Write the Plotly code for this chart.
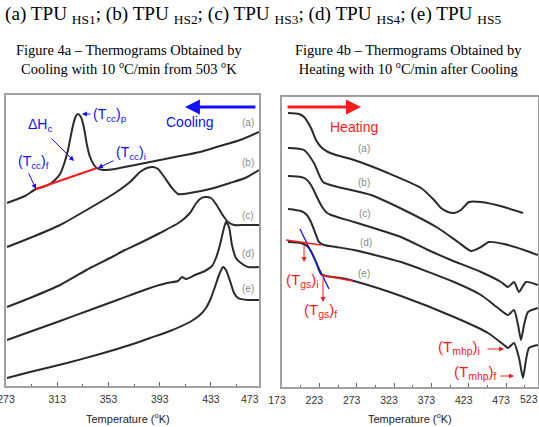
import plotly.graph_objects as go

W, H = 539, 427

# ---------------- Data (T in K, heat flow in arbitrary units, curves offset) ----------------
# Figure 4a - cooling thermograms
cool_a_T = [273.8, 280.0, 287.8, 296.4, 301.9, 307.3, 311.2, 315.2, 318.3, 321.4, 324.5, 326.9, 329.2, 331.5,
            333.9, 336.2, 338.6, 341.7, 344.0, 348.7, 358.1, 369.8, 385.4, 404.9, 424.4, 440.0, 455.7, 470.5]
cool_a_q = [183, 186, 190, 197, 199, 202, 206, 212, 222, 236, 256, 268, 272, 269,
            258, 241, 229, 221, 218, 216, 217, 220, 224, 229, 234, 240, 246, 254]

cool_b_T = [273.8, 291.7, 315.2, 338.6, 358.1, 369.8, 377.6, 383.1, 387.7, 391.7, 397.1, 402.6, 407.3, 416.6,
            432.2, 447.9, 459.6, 470.5]
cool_b_q = [139, 148, 161, 178, 193, 204, 214, 218, 219, 217, 208, 198, 192, 193, 197, 203, 208, 216]

cool_c_T = [273.8, 291.7, 315.2, 338.6, 354.2, 365.9, 377.6, 393.2, 408.8, 416.6, 420.5, 424.4, 428.3, 433.0,
            436.9, 441.6, 446.3, 451.0, 459.6, 470.5]
cool_c_q = [79, 88, 101, 118, 128, 136, 143, 153, 164, 173, 181, 187, 189, 188, 182, 172, 164, 161, 161, 161]

cool_d_T = [273.8, 315.2, 338.6, 362.0, 385.4, 398.7, 407.3, 410.4, 413.5, 420.5, 428.3, 433.8, 436.9, 440.0,
            442.4, 444.7, 447.1, 449.4, 452.5, 456.4, 461.9, 470.5]
cool_d_q = [46, 65, 76, 87, 98, 103, 105, 109, 107, 111, 115, 120, 128, 141, 154, 164, 159, 141, 128, 123, 119, 119]

cool_e_T = [273.8, 291.7, 320.6, 346.4, 369.8, 385.4, 401.0, 416.6, 424.4, 429.1, 433.0, 436.1, 439.3, 442.4,
            444.7, 447.9, 451.0, 454.1, 461.9, 470.5]
cool_e_q = [8, 14, 23, 32, 41, 48, 55, 64, 71, 78, 88, 99, 111, 119, 116, 105, 93, 88, 86, 86]

# Figure 4b - heating thermograms
heat_a_T = [181.0, 195.8, 202.5, 211.8, 218.5, 225.2, 234.6, 245.3, 269.4, 314.9, 359.1, 376.5, 385.9, 395.2,
            403.3, 412.6, 423.3, 439.4, 470.2, 495.6]
heat_a_q = [274, 273, 270, 259, 247, 240, 235, 232, 227, 214, 199, 187, 179, 175, 174, 177, 185, 185, 180, 174]

heat_b_T = [181.0, 202.5, 215.8, 227.9, 248.0, 292.1, 336.3, 381.8, 408.6, 426.0, 439.4, 450.1, 470.2, 497.0, 515.5]
heat_b_q = [239, 237, 224, 205, 200, 192, 177, 159, 145, 136, 140, 145, 143, 137, 132]

heat_c_T = [181.0, 198.4, 205.1, 211.8, 218.5, 225.2, 231.9, 238.6, 269.4, 332.3, 368.5, 399.2, 439.4, 466.2,
            475.5, 483.6, 490.3, 499.6, 515.5]
heat_c_q = [211, 210, 208, 202, 192, 182, 175, 172, 165, 150, 137, 127, 115, 105, 100, 105, 95, 105, 102]

heat_d_T = [181.0, 198.4, 205.1, 211.8, 218.5, 222.5, 229.2, 245.3, 269.4, 332.3, 403.3, 439.4, 462.2, 475.5,
            483.6, 489.0, 493.0, 497.0, 502.3, 515.5]
heat_d_q = [178, 176, 173, 165, 152, 145, 142, 140, 137, 125, 105, 92, 79, 72, 77, 62, 47, 62, 75, 79]

heat_e_T = [181.0, 198.4, 206.5, 211.8, 218.5, 225.2, 231.9, 252.0, 269.4, 332.3, 403.3, 448.8, 470.2, 475.5,
            483.6, 490.3, 495.6, 499.6, 503.6, 515.5]
heat_e_q = [145, 144, 141, 136, 125, 113, 111, 109, 106, 91, 70, 54, 42, 39, 44, 29, 9, 27, 39, 42]

# Construction lines
tcc_base_T = [296.4, 344.0]
tcc_base_q = [197, 218]
tgs_tan_T = [197.1, 235.9]
tgs_tan_q = [158, 98]
tgs_base1_T = [178.4, 225.2]
tgs_base1_q = [147, 142]
tgs_base2_T = [225.2, 268.0]
tgs_base2_q = [112, 106]

curve_labels = ["(a)", "(b)", "(c)", "(d)", "(e)"]
cool_label_T = [461.9, 461.9, 461.9, 461.9, 461.9]
cool_label_q = [264, 224, 171, 133, 98]
heat_label_T = [282.8, 282.8, 284.1, 285.5, 282.8]
heat_label_q = [239, 205, 174, 145, 114]

cool_ticks = [273, 313, 353, 393, 433]
cool_minor = [293, 333, 373, 413, 453]
heat_ticks = [173, 223, 273, 323, 373, 423, 473]
heat_minor = [198, 248, 298, 348, 398, 448, 498]

# ---------------- Figure ----------------
fig = go.Figure()
LINE = dict(color="#2a2a2a", width=2, shape="spline", smoothing=0.6)

for T, q in [(cool_a_T, cool_a_q), (cool_b_T, cool_b_q), (cool_c_T, cool_c_q),
             (cool_d_T, cool_d_q), (cool_e_T, cool_e_q)]:
    fig.add_trace(go.Scatter(x=T, y=q, mode="lines", line=LINE, xaxis="x", yaxis="y",
                             hoverinfo="skip", showlegend=False))
for T, q in [(heat_a_T, heat_a_q), (heat_b_T, heat_b_q), (heat_c_T, heat_c_q),
             (heat_d_T, heat_d_q), (heat_e_T, heat_e_q)]:
    fig.add_trace(go.Scatter(x=T, y=q, mode="lines", line=LINE, xaxis="x2", yaxis="y2",
                             hoverinfo="skip", showlegend=False))

RED = "#ff1a1a"
BLUE = "#1010ff"
fig.add_trace(go.Scatter(x=tcc_base_T, y=tcc_base_q, mode="lines", line=dict(color=RED, width=2),
                         xaxis="x", yaxis="y", showlegend=False, hoverinfo="skip"))
fig.add_trace(go.Scatter(x=tgs_tan_T, y=tgs_tan_q, mode="lines", line=dict(color=BLUE, width=1.3),
                         xaxis="x2", yaxis="y2", showlegend=False, hoverinfo="skip"))
fig.add_trace(go.Scatter(x=tgs_base1_T, y=tgs_base1_q, mode="lines", line=dict(color=RED, width=1.3),
                         xaxis="x2", yaxis="y2", showlegend=False, hoverinfo="skip"))
fig.add_trace(go.Scatter(x=tgs_base2_T, y=tgs_base2_q, mode="lines", line=dict(color=RED, width=1.3),
                         xaxis="x2", yaxis="y2", showlegend=False, hoverinfo="skip"))

SANS = "Arial, Liberation Sans, sans-serif"
SERIF = "Times New Roman, Liberation Serif, serif"
FRAME = "#a0a0a0"

ann = []


def text(x, y, s, size, color, xr="x", yr="y", family=SANS, xanchor="center"):
    ann.append(dict(x=x, y=y, xref=xr, yref=yr, text=s, showarrow=False,
                    font=dict(family=family, size=size, color=color), xanchor=xanchor, yanchor="middle"))


def arrow(hx, hy, tx, ty, color, width=1, xr="x", yr="y", size=1, head=2):
    ann.append(dict(x=hx, y=hy, ax=tx, ay=ty, xref=xr, yref=yr, axref=xr, ayref=yr, text="",
                    showarrow=True, arrowhead=head, arrowsize=size, arrowwidth=width, arrowcolor=color))


# curve labels
for lab, T, q in zip(curve_labels, cool_label_T, cool_label_q):
    text(T, q, lab, 10, "#8a8a8a")
for lab, T, q in zip(curve_labels, heat_label_T, heat_label_q):
    text(T, q, lab, 10, "#8a8a8a", xr="x2", yr="y2")

# cooling panel annotations
text(416.6, 264, "Cooling", 14, BLUE)
arrow(412.7, 279, 468.9, 279, BLUE, width=3)
text(299.5, 261, "ΔH<sub>c</sub>", 14, BLUE)
arrow(326.1, 225, 307.3, 249, BLUE)
text(339.4, 271, "(T<sub>cc</sub>)<sub>p</sub>", 14, BLUE, xanchor="left")
arrow(332.3, 272, 340.1, 272, BLUE)
text(294.1, 224, "(T<sub>cc</sub>)<sub>f</sub>", 14, BLUE)
arrow(296.4, 197, 290.2, 214, BLUE)
text(370.6, 233, "(T<sub>cc</sub>)<sub>i</sub>", 14, BLUE)
arrow(344.8, 218, 358.1, 226, BLUE)

# heating panel annotations
text(269.4, 260, "Heating", 14, RED, xr="x2", yr="y2")
arrow(278.8, 280, 178.4, 280, RED, width=3, xr="x2", yr="y2")
arrow(202.5, 125, 202.5, 144, RED, xr="x2", yr="y2")
arrow(227.9, 85, 227.9, 110, RED, xr="x2", yr="y2")
text(201.1, 107, "(T<sub>gs</sub>)<sub>i</sub>", 15, RED, xr="x2", yr="y2")
text(225.2, 77, "(T<sub>gs</sub>)<sub>f</sub>", 15, RED, xr="x2", yr="y2")
text(409.9, 40, "(T<sub>mhp</sub>)<sub>i</sub>", 15, RED, xr="x2", yr="y2")
arrow(470.2, 38, 446.1, 38, RED, xr="x2", yr="y2")
text(431.4, 15, "(T<sub>mhp</sub>)<sub>f</sub>", 15, RED, xr="x2", yr="y2")
arrow(483.6, 11, 463.5, 11, RED, xr="x2", yr="y2")

# titles
text(3 / W, 1 - 15 / H,
     "(a) TPU <sub>HS1</sub>; (b) TPU <sub>HS2</sub>; (c) TPU <sub>HS3</sub>; (d) TPU <sub>HS4</sub>; (e) TPU <sub>HS5</sub>",
     19.2, "#000", xr="paper", yr="paper", family=SERIF, xanchor="left")
text(129 / W, 1 - 59.5 / H,
     "Figure 4a – Thermograms Obtained by<br>Cooling with 10 <sup>o</sup>C/min from 503 <sup>o</sup>K",
     14.5, "#000", xr="paper", yr="paper", family=SERIF)
text(408 / W, 1 - 59.5 / H,
     "Figure 4b – Thermograms Obtained by<br>Heating with 10 <sup>o</sup>C/min after Cooling",
     14.5, "#000", xr="paper", yr="paper", family=SERIF)

# axis titles and edge tick labels
text(128 / W, 1 - 418 / H, "Temperature (<sup>o</sup>K)", 11, "#222", xr="paper", yr="paper")
text(410 / W, 1 - 418 / H, "Temperature (<sup>o</sup>K)", 11, "#222", xr="paper", yr="paper")
text(250 / W, 1 - 399 / H, "473", 10.5, "#333", xr="paper", yr="paper")
text(529 / W, 1 - 399 / H, "523", 10.5, "#333", xr="paper", yr="paper")

xcommon = dict(showline=True, linecolor=FRAME, linewidth=1.5, mirror=True, ticks="inside", ticklen=4,
               tickcolor="#666", tickwidth=1.2, showgrid=False, zeroline=False, automargin=False,
               ticklabeloverflow="allow", ticklabelstandoff=3,
               tickfont=dict(family=SANS, size=10.5, color="#333"))
ycommon = dict(showline=True, linecolor=FRAME, linewidth=1.5, mirror=True, showticklabels=False,
               ticks="", showgrid=False, zeroline=False, automargin=False)

fig.update_layout(
    width=W, height=H, margin=dict(l=0, r=0, t=0, b=0, pad=0, autoexpand=False),
    paper_bgcolor="white", plot_bgcolor="white", showlegend=False,
    xaxis=dict(domain=[6 / W, 259 / W], range=[273, 470.5], anchor="y",
               tickmode="array", tickvals=cool_ticks, ticktext=[str(v) for v in cool_ticks],
               minor=dict(tickmode="array", tickvals=cool_minor, ticks="inside", ticklen=2,
                          tickcolor="#666", showgrid=False),
               **xcommon),
    yaxis=dict(domain=[41 / H, 332 / H], range=[0, 291], anchor="x", **ycommon),
    xaxis2=dict(domain=[282 / W, 538 / W], range=[173, 515.7], anchor="y2",
                tickmode="array", tickvals=heat_ticks, ticktext=[str(v) for v in heat_ticks],
                ticklabelshift=-5,
                minor=dict(tickmode="array", tickvals=heat_minor, ticks="inside", ticklen=2,
                           tickcolor="#666", showgrid=False),
                **xcommon),
    yaxis2=dict(domain=[40 / H, 330 / H], range=[0, 290], anchor="x2", **ycommon),
    annotations=ann,
)

fig.write_html("out.html")
